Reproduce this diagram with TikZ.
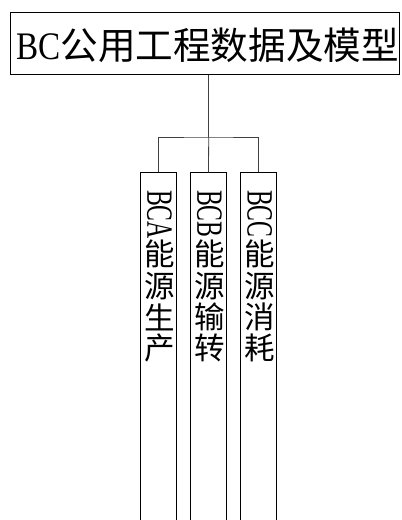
\documentclass[tikz,border=0pt]{standalone}
\usepackage{fontspec}
\setmainfont{Liberation Serif}
\newfontfamily\cjk{Noto Sans CJK SC}
\begin{document}
\begin{tikzpicture}[x=1bp,y=-1bp,
  box/.style={draw=black,line width=0.8bp},
  conn/.style={draw=black!75,line width=0.8bp},
  cjkch/.style={inner sep=0pt,font=\fontsize{30.5bp}{30.5bp}\cjk},
  latv/.style={inner sep=0pt,rotate=-90,anchor=west,font=\fontsize{37bp}{37bp}\selectfont}]
\useasboundingbox (0,0) rectangle (401,520);
% top box
\node[box,minimum width=389bp,minimum height=62bp,anchor=north west,inner sep=0pt] (top) at (10,12) {};
\node[inner sep=0pt,anchor=west] (toptext) at (16,45) {\fontsize{39bp}{39bp}\selectfont\scalebox{0.85}[1]{BC}\fontsize{37.6bp}{37.6bp}\cjk 公用工程数据及模型};
% child boxes
\node[box,minimum width=36bp,minimum height=360bp,anchor=north,inner sep=0pt] (a) at (158.5,172.5) {};
\node[box,minimum width=36bp,minimum height=360bp,anchor=north,inner sep=0pt] (b) at (208.5,172.5) {};
\node[box,minimum width=36bp,minimum height=360bp,anchor=north,inner sep=0pt] (c) at (258.7,172.5) {};
% connectors
\coordinate (j) at (208.7,137);
\draw[conn] (top.south -| j) -- (j);
\draw[conn] (a.north) |- (j) -| (c.north);
\draw[conn] (j) -- (b.north);
% vertical texts
\foreach \n/\x/\l/\p/\q/\r/\s in {ta/159.5/BCA/能/源/生/产, tb/209.5/BCB/能/源/输/转, tc/259.7/BCC/能/源/消/耗}{
  \node[latv] (\n l) at (\x,190) {\scalebox{0.64}[1]{\l}};
  \node[cjkch] (\n1) at (\x,254) {\p};
  \node[cjkch] (\n2) at (\x,286) {\q};
  \node[cjkch] (\n3) at (\x,317) {\r};
  \node[cjkch] (\n4) at (\x,348) {\s};
}
\end{tikzpicture}
\end{document}
